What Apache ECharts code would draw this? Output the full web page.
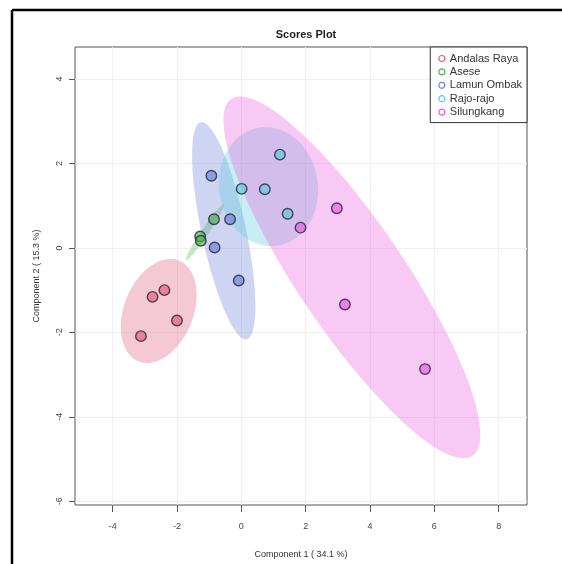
<!DOCTYPE html>
<html><head><meta charset="utf-8">
<script src="https://cdn.jsdelivr.net/npm/echarts@6/dist/echarts.min.js"></script>
<style>html,body{margin:0;padding:0;background:#fff}#c{width:562px;height:564px}</style>
</head><body><div id="c"></div>
<script>
const groups = ['Andalas Raya', 'Asese', 'Lamun Ombak', 'Rajo-rajo', 'Silungkang'];
const andalasRaya = [[-2.39, -1.00], [-2.76, -1.16], [-2.00, -1.72], [-3.12, -2.09]];
const asese = [[-0.85, 0.68], [-1.28, 0.27], [-1.26, 0.17]];
const lamunOmbak = [[-0.93, 1.71], [-0.35, 0.68], [-0.83, 0.01], [-0.08, -0.77]];
const rajoRajo = [[0.01, 1.40], [0.73, 1.39], [1.20, 2.21], [1.44, 0.81]];
const silungkang = [[2.97, 0.94], [1.84, 0.48], [3.22, -1.34], [5.71, -2.87]];
const xTicks = [-4, -2, 0, 2, 4, 6, 8];
const yTicks = [-6, -4, -2, 0, 2, 4];

const groupData = [andalasRaya, asese, lamunOmbak, rajoRajo, silungkang];
const colors = [[226, 90, 120], [80, 178, 80], [106, 127, 216], [92, 200, 226], [232, 92, 222]];
const rgba = (c, a) => `rgba(${c[0]},${c[1]},${c[2]},${a})`;
const FONT = '"Liberation Sans", Arial, sans-serif';

function ellipse(pts, t, n) {
  const m = pts.length;
  let mx = 0, my = 0;
  pts.forEach(p => { mx += p[0]; my += p[1]; });
  mx /= m; my /= m;
  let sxx = 0, syy = 0, sxy = 0;
  pts.forEach(p => { const dx = p[0] - mx, dy = p[1] - my; sxx += dx * dx; syy += dy * dy; sxy += dx * dy; });
  sxx /= (m - 1); syy /= (m - 1); sxy /= (m - 1);
  const a = (sxx + syy) / 2, d = Math.sqrt(((sxx - syy) / 2) ** 2 + sxy ** 2);
  const l1 = a + d, l2 = Math.max(a - d, 0);
  const th = 0.5 * Math.atan2(2 * sxy, sxx - syy);
  const out = [];
  for (let i = 0; i < n; i++) {
    const ang = 2 * Math.PI * i / n;
    const u = t * Math.sqrt(l1) * Math.cos(ang), v = t * Math.sqrt(l2) * Math.sin(ang);
    out.push([mx + u * Math.cos(th) - v * Math.sin(th), my + u * Math.sin(th) + v * Math.cos(th)]);
  }
  return { center: [mx, my], pts: out };
}

const series = [];
groups.forEach((g, i) => {
  const e = ellipse(groupData[i], Math.sqrt(5.991465), 120);
  series.push({
    type: 'custom', name: g, z: 1 + i, silent: true, clip: true,
    data: [e.center],
    renderItem: (params, api) => ({
      type: 'polygon',
      shape: { points: e.pts.map(p => api.coord(p)) },
      style: { fill: rgba(colors[i], 0.33), stroke: null }
    })
  });
});
groups.forEach((g, i) => {
  series.push({
    type: 'scatter', name: g, z: 10, symbol: 'circle', symbolSize: 10.5,
    data: groupData[i],
    itemStyle: { color: rgba(colors[i], 0.65), borderColor: 'rgba(45,45,60,0.85)', borderWidth: 1.4, opacity: 1 }
  });
});

const chart = echarts.init(document.getElementById('c'), null, { renderer: 'canvas' });
chart.setOption({
  backgroundColor: '#fff',
  animation: false,
  title: {
    text: 'Scores Plot', left: 301, top: 24, textAlign: 'center',
    textStyle: { fontFamily: FONT, fontSize: 11, fontWeight: 'bold', color: '#222' }
  },
  graphic: [
    { type: 'line', shape: { x1: 12, y1: 10, x2: 562, y2: 10 }, style: { stroke: '#000', lineWidth: 2.5 } },
    { type: 'line', shape: { x1: 12, y1: 10, x2: 12, y2: 564 }, style: { stroke: '#000', lineWidth: 2.5 } }
  ],
  grid: { left: 75, right: 35, top: 47, bottom: 58, show: true, borderColor: '#555', borderWidth: 1, backgroundColor: 'transparent' },
  legend: {
    orient: 'vertical', right: 35, top: 47, itemWidth: 6, itemHeight: 6, itemGap: 2.4,
    padding: [6, 5, 5, 8], borderColor: '#333', borderWidth: 1, backgroundColor: '#fff',
    textStyle: { fontFamily: FONT, fontSize: 11, color: '#333', lineHeight: 11 },
    data: groups.map((g, i) => ({ name: g, icon: 'circle', itemStyle: { color: 'transparent', borderColor: rgba(colors[i], 1), borderWidth: 1.2 } })),
    selectedMode: false, z: 20
  },
  xAxis: {
    type: 'value', min: -5.17, max: 8.88,
    name: 'Component 1 ( 34.1 %)', nameLocation: 'middle', nameGap: 45,
    nameTextStyle: { fontFamily: FONT, fontSize: 9, color: '#333' },
    axisLine: { show: false, onZero: false },
    axisTick: { show: true, length: 7, customValues: xTicks, lineStyle: { color: '#555' } },
    axisLabel: { customValues: xTicks, margin: 17, fontFamily: FONT, fontSize: 9, color: '#444' },
    splitLine: { show: true, lineStyle: { color: '#f0f0f0', width: 1 } }
  },
  yAxis: {
    type: 'value', min: -6.09, max: 4.76,
    name: 'Component 2 ( 15.3 %)', nameLocation: 'middle', nameGap: 34, nameRotate: 90,
    nameTextStyle: { fontFamily: FONT, fontSize: 9, color: '#333' },
    axisLine: { show: false, onZero: false },
    axisTick: { show: true, length: 6, customValues: yTicks, lineStyle: { color: '#555' } },
    axisLabel: { customValues: yTicks, margin: 11, rotate: 90, fontFamily: FONT, fontSize: 9, color: '#444' },
    splitLine: { show: true, lineStyle: { color: '#f0f0f0', width: 1 } }
  },
  series: series
});
</script>
</body></html>
